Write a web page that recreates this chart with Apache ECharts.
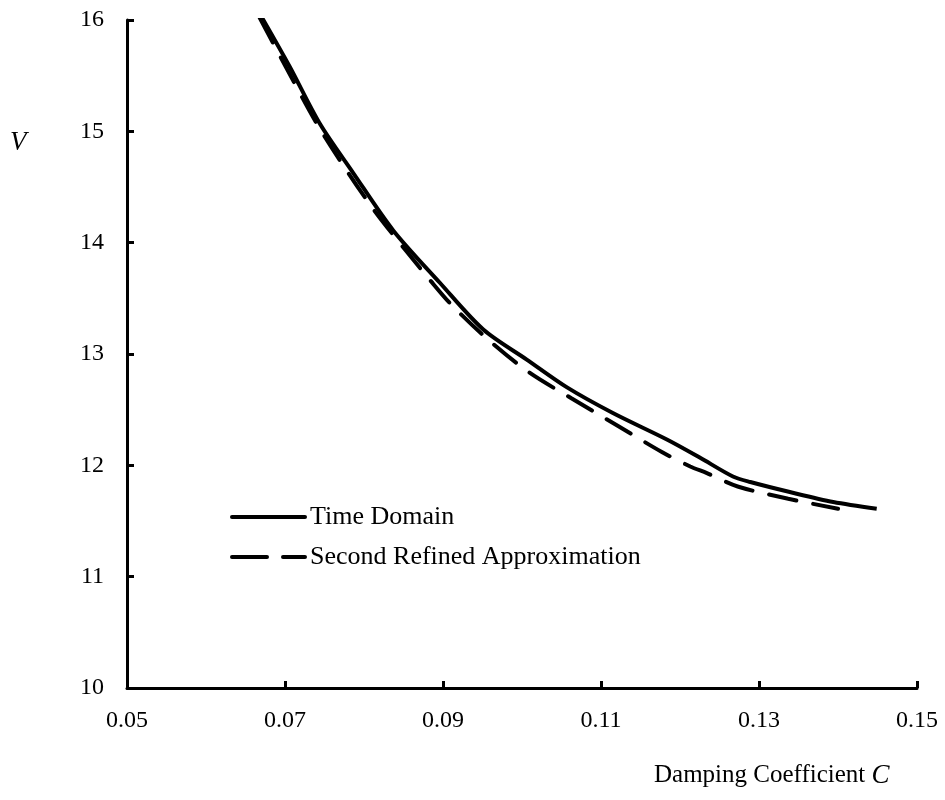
<!DOCTYPE html>
<html>
<head>
<meta charset="utf-8">
<script src="https://cdn.jsdelivr.net/npm/echarts@6/dist/echarts.min.js"></script>
<style>html,body{margin:0;padding:0;background:#fff}#c{width:945px;height:800px}</style>
</head>
<body>
<div id="c"></div>
<script>
var timeDomainC = [0.0671, 0.0706, 0.0744, 0.0786, 0.0837, 0.0896, 0.0951, 0.1006, 0.1057, 0.1115, 0.1184, 0.1225, 0.1267, 0.1289, 0.1339, 0.1394, 0.1449];
var timeDomainV = [16.02, 15.58, 15.07, 14.63, 14.11, 13.64, 13.22, 12.95, 12.70, 12.47, 12.23, 12.07, 11.90, 11.85, 11.76, 11.67, 11.61];
var approxC = [0.0668, 0.0710, 0.0741, 0.0776, 0.0814, 0.0854, 0.0884, 0.0911, 0.0957, 0.1008, 0.1063, 0.1120, 0.1177, 0.1213, 0.1234, 0.1273, 0.1337, 0.1400];
var approxV = [16.02, 15.46, 15.06, 14.67, 14.28, 13.92, 13.66, 13.44, 13.13, 12.84, 12.60, 12.36, 12.12, 11.99, 11.93, 11.81, 11.70, 11.61];
var seriesNames = ['Time Domain', 'Second Refined Approximation'];

function pairs(xs, ys) { return xs.map(function (x, i) { return [x, ys[i]]; }); }

var font = 'Liberation Serif';
var chart = echarts.init(document.getElementById('c'), null, { renderer: 'canvas' });
chart.setOption({
  backgroundColor: '#fff',
  animation: false,
  grid: { left: 127, right: 28, top: 20, bottom: 112 },
  legend: {
    orient: 'vertical', left: 225, top: 499,
    itemWidth: 73, itemHeight: 28, itemGap: 14,
    itemStyle: { opacity: 0 },
    textStyle: { fontFamily: font, fontSize: 26, color: '#000' },
    data: [
      { name: seriesNames[0], lineStyle: { width: 4, color: '#000', type: 'solid', cap: 'round' } },
      { name: seriesNames[1], lineStyle: { width: 4, color: '#000', type: [35, 16], cap: 'round' } }
    ]
  },
  xAxis: {
    type: 'value', min: 0.05, max: 0.15, interval: 0.02,
    axisLine: { lineStyle: { color: '#000', width: 3 } },
    axisTick: { inside: true, length: 7, lineStyle: { color: '#000', width: 3 } },
    splitLine: { show: false },
    axisLabel: { margin: 21, fontFamily: font, fontSize: 24, color: '#000',
      formatter: function (v) { return v.toFixed(2); } }
  },
  yAxis: {
    type: 'value', min: 10, max: 16, interval: 1,
    axisLine: { show: true, lineStyle: { color: '#000', width: 3 } },
    axisTick: { show: true, inside: true, length: 7, lineStyle: { color: '#000', width: 3 } },
    splitLine: { show: false },
    axisLabel: { margin: 23, fontFamily: font, fontSize: 24, color: '#000' }
  },
  graphic: [
    { type: 'text', left: 10, top: 129, style: { text: 'V', font: 'italic 27px "Liberation Serif"', fill: '#000' } },
    { type: 'text', left: 654, top: 762, style: {
      text: '{a|Damping Coefficient }{b|C}',
      rich: { a: { fontFamily: font, fontSize: 25, fill: '#000', color: '#000' },
              b: { fontFamily: font, fontStyle: 'italic', fontSize: 27, fill: '#000', color: '#000' } }
    } }
  ],
  series: [
    { name: seriesNames[0], type: 'line', data: pairs(timeDomainC, timeDomainV), symbol: 'none', smooth: 0.3,
      lineStyle: { color: '#000', width: 4 }, itemStyle: { color: '#000' } },
    { name: seriesNames[1], type: 'line', data: pairs(approxC, approxV), symbol: 'none', smooth: 0.3,
      lineStyle: { color: '#000', width: 4, type: [28, 17], cap: 'round' }, itemStyle: { color: '#000' } }
  ]
});
</script>
</body>
</html>
